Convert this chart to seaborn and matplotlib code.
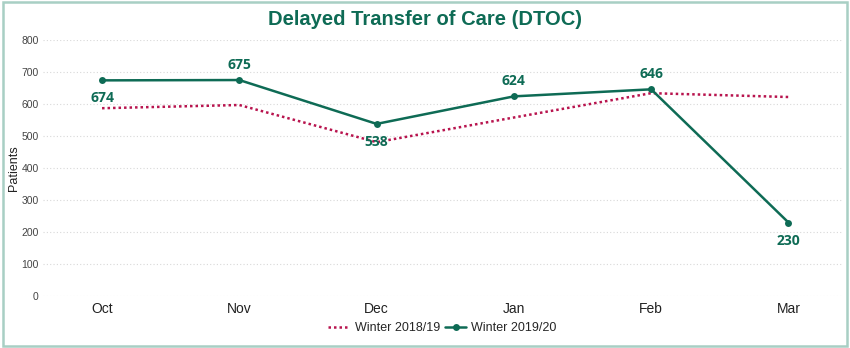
import matplotlib
matplotlib.use("Agg")
import matplotlib.pyplot as plt
import seaborn as sns
import pandas as pd
from matplotlib.patches import Rectangle

months = ["Oct", "Nov", "Dec", "Jan", "Feb", "Mar"]
winter_1819 = [587, 597, 481, 558, 634, 622]
winter_1920 = [674, 675, 538, 624, 646, 230]
label_pos = ["below", "above", "below", "above", "above", "below"]
y_ticks = [0, 100, 200, 300, 400, 500, 600, 700, 800]

sns.set_theme(style="white")
plt.rcParams["font.family"] = ["Liberation Sans", "DejaVu Sans"]

GREEN = "#0e6b55"
RED = "#b8144e"

fig = plt.figure(figsize=(8.5, 3.48), dpi=100)
ax = fig.add_axes([0.0506, 0.149, 0.94, 0.736])

x = list(range(len(months)))
df1 = pd.DataFrame({"x": x, "y": winter_1819})
df2 = pd.DataFrame({"x": x, "y": winter_1920})

sns.lineplot(data=df1, x="x", y="y", ax=ax, color=RED, lw=1.8,
             linestyle=(0, (1, 1.2)), label="Winter 2018/19")
sns.lineplot(data=df2, x="x", y="y", ax=ax, color=GREEN, lw=1.8,
             marker="o", markersize=5, markeredgewidth=0, label="Winter 2019/20")

for xi, v, pos in zip(x, winter_1920, label_pos):
    dy = 11 if pos == "above" else -13
    ax.annotate(str(v), (xi, v), xytext=(0, dy), textcoords="offset points",
                ha="center", va="center", fontsize=10, fontweight="bold",
                color=GREEN, family=["Open Sans", "DejaVu Sans"])

ax.set_xlim(-0.43, 5.39)
ax.set_ylim(0, 800)
ax.set_yticks(y_ticks)
ax.set_yticklabels([str(t) for t in y_ticks], fontsize=7.5, color="#444444")
ax.set_xticks(x)
ax.set_xticklabels(months, fontsize=10, color="#222222")
ax.tick_params(axis="x", length=0, pad=4)
ax.tick_params(axis="y", length=0, pad=3)
ax.set_xlabel("")
ax.set_ylabel("Patients", fontsize=9, color="#222222")
ax.yaxis.set_label_coords(-0.029, 0.5)
for s in ax.spines.values():
    s.set_visible(False)
ax.grid(axis="y", linestyle=(0, (1, 2)), color="#d8d8d8", lw=0.8)
ax.grid(axis="x", visible=False)

leg = ax.legend(loc="center", bbox_to_anchor=(0.5, -0.125), ncol=2,
                frameon=False, fontsize=9, handlelength=1.7,
                columnspacing=0.4, handletextpad=0.4)

fig.text(0.5, 0.945, "Delayed Transfer of Care (DTOC)", ha="center", va="center",
         fontsize=14.5, fontweight="bold", color=GREEN)

fig.patches.append(Rectangle((0.003, 0.006), 0.994, 0.988, transform=fig.transFigure,
                             fill=False, edgecolor="#a8cfc4", lw=1.8))

fig.savefig("out.png", dpi=100)
